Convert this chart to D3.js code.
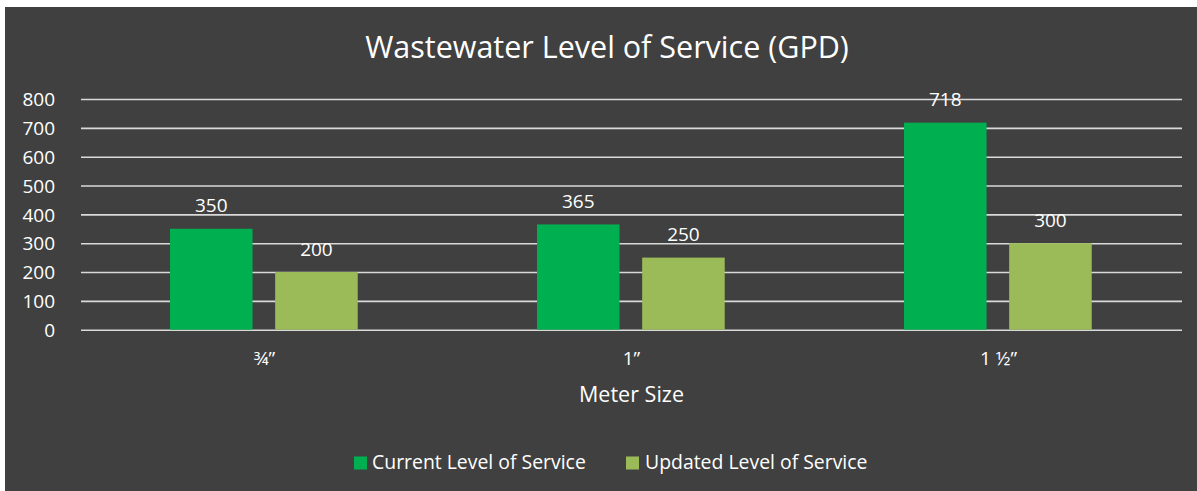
<!DOCTYPE html>
<html>
<head>
<meta charset="utf-8">
<script src="https://cdn.jsdelivr.net/npm/d3@7"></script>
<style>
  html, body { margin: 0; padding: 0; background: #ffffff; }
  svg { display: block; }
  text { font-family: "Open Sans", "Noto Sans", sans-serif; fill: #ffffff; }
</style>
</head>
<body>
<svg id="chart" width="1197" height="491"></svg>
<script>
const categories = ["\u00BE\u201D", "1\u201D", "1 \u00BD\u201D"];
const seriesNames = ["Current Level of Service", "Updated Level of Service"];
const currentValues = [350, 365, 718];
const updatedValues = [200, 250, 300];
const yTicks = [0, 100, 200, 300, 400, 500, 600, 700, 800];
const colors = ["#00B050", "#9BBB59"];
const titleText = "Wastewater Level of Service (GPD)";
const xAxisTitle = "Meter Size";

const seriesValues = [currentValues, updatedValues];
const svg = d3.select("#chart");

// background panel
svg.append("rect").attr("x", 5).attr("y", 7).attr("width", 1192).attr("height", 484).attr("fill", "#404040");

function fitText(sel, targetWidth) {
  const node = sel.node();
  sel.attr("font-size", 100);
  const w = node.getComputedTextLength();
  sel.attr("font-size", 100 * targetWidth / w);
  return sel;
}

const left = 81, right = 1182, y0 = 329.7, yTop = 99;
const x0 = d3.scaleBand().domain(categories).range([left, right]).paddingInner(0).paddingOuter(0);
const cw = x0.bandwidth();
const x1 = d3.scaleBand().domain(seriesNames).range([cw * 0.2425, cw * 0.754]).paddingInner(0.215).paddingOuter(0);
const y = d3.scaleLinear().domain([0, 800]).range([y0, yTop]);

// title
fitText(svg.append("text").attr("x", 607).attr("y", 57.5).attr("text-anchor", "middle").text(titleText), 484);

// gridlines
const yAxis = d3.axisLeft(y).tickValues(yTicks).tickSize(-(right - left)).tickPadding(26).tickFormat(d3.format("d"));
const gAxis = svg.append("g").attr("transform", `translate(${left},0)`).call(yAxis);
gAxis.select(".domain").remove();
gAxis.selectAll(".tick line").attr("stroke", "#d9d9d9").attr("stroke-width", 1.6);
gAxis.selectAll(".tick text").attr("fill", "#ffffff").attr("font-size", 19).attr("font-family", "\"Open Sans\", sans-serif").attr("dy", "0.35em");

// bars
const groups = svg.append("g").selectAll("g").data(categories).join("g")
  .attr("transform", d => `translate(${x0(d)},0)`);

groups.each(function(cat, ci) {
  const g = d3.select(this);
  seriesNames.forEach((s, si) => {
    const v = seriesValues[si][ci];
    g.append("rect")
      .attr("x", x1(s)).attr("width", x1.bandwidth())
      .attr("y", y(v)).attr("height", y(0) - y(v))
      .attr("fill", colors[si]);
    g.append("text")
      .attr("x", x1(s) + x1.bandwidth() / 2)
      .attr("y", y(v) - 16.5)
      .attr("text-anchor", "middle")
      .attr("font-size", 19)
      .text(v);
  });
});

// category labels
const xAxis = d3.axisBottom(x0).tickSize(0).tickPadding(0);
const gx = svg.append("g").attr("transform", `translate(0,${y0})`).call(xAxis);
gx.select(".domain").remove();
gx.selectAll(".tick text").attr("fill", "#ffffff").attr("font-size", 19).attr("font-family", "\"Open Sans\", sans-serif").attr("y", 35).attr("dy", 0);

// axis title
fitText(svg.append("text").attr("x", 631.5).attr("y", 401.5).attr("text-anchor", "middle").text(xAxisTitle), 105);

// legend
const legend = svg.append("g");
const lt0 = legend.append("text").attr("x", 372).attr("y", 469).text(seriesNames[0]);
fitText(lt0, 214);
const fs = +lt0.attr("font-size");
legend.append("rect").attr("x", 354).attr("y", 456.5).attr("width", 13).attr("height", 13).attr("fill", colors[0]);
legend.append("rect").attr("x", 626).attr("y", 456.5).attr("width", 13).attr("height", 13).attr("fill", colors[1]);
legend.append("text").attr("x", 645).attr("y", 469).attr("font-size", fs).text(seriesNames[1]);
</script>
</body>
</html>
